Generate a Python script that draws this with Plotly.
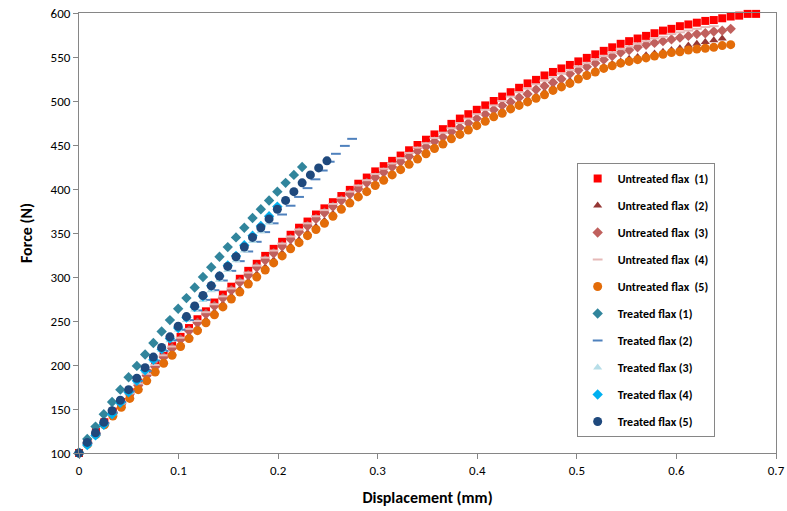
import plotly.graph_objects as go

# ---------------- data ----------------
disp_untreated = [0, 0.0085, 0.017, 0.0255, 0.034, 0.0425, 0.051, 0.0595, 0.068, 0.0765,
                  0.085, 0.0935, 0.102, 0.1105, 0.119, 0.1275, 0.136, 0.1445, 0.153, 0.1615,
                  0.17, 0.1785, 0.187, 0.1955, 0.204, 0.2125, 0.221, 0.2295, 0.238, 0.2465,
                  0.255, 0.2635, 0.272, 0.2805, 0.289, 0.2975, 0.306, 0.3145, 0.323, 0.3315,
                  0.34, 0.3485, 0.357, 0.3655, 0.374, 0.3825, 0.391, 0.3995, 0.408, 0.4165,
                  0.425, 0.4335, 0.442, 0.4505, 0.459, 0.4675, 0.476, 0.4845, 0.493, 0.5015,
                  0.51, 0.5185, 0.527, 0.5355, 0.544, 0.5525, 0.561, 0.5695, 0.578, 0.5865,
                  0.595, 0.6035, 0.612, 0.6205, 0.629, 0.6375, 0.646, 0.6545, 0.663, 0.6715, 0.68]

force_untreated_1 = [100, 112, 124, 135, 147, 158, 169, 180, 191, 201,
                     212, 222, 232, 242, 252, 261, 271, 280, 289, 298,
                     307, 315, 324, 332, 340, 348, 356, 363, 371, 378,
                     385, 392, 399, 406, 413, 420, 426, 432, 438, 444,
                     450, 456, 462, 468, 474, 480, 485, 490, 495, 500,
                     505, 510, 515, 520, 524, 529, 533, 537, 541, 545,
                     549, 553, 557, 561, 565, 568, 571, 574, 577, 580,
                     582, 585, 587, 589, 591, 592, 594, 596, 597, 599, 599]

force_untreated_2 = [100, 111, 122, 133, 144, 154, 164, 174, 184, 194,
                     204, 214, 224, 233, 242, 251, 260, 269, 278, 286,
                     295, 303, 311, 319, 327, 335, 342, 350, 357, 364,
                     372, 379, 386, 393, 399, 406, 412, 418, 424, 430,
                     436, 442, 448, 453, 459, 464, 469, 474, 479, 484,
                     489, 493, 498, 502, 506, 510, 515, 519, 523, 527,
                     531, 535, 539, 542, 545, 548, 550, 552, 554, 556,
                     558, 560, 563, 565, 567, 569, 571]

force_untreated_3 = [100, 111, 122, 133, 145, 156, 167, 177, 188, 198,
                     209, 219, 229, 239, 248, 258, 267, 276, 285, 294,
                     302, 311, 319, 327, 335, 343, 351, 358, 366, 373,
                     380, 387, 394, 400, 407, 413, 419, 425, 431, 437,
                     443, 448, 454, 459, 465, 470, 475, 480, 485, 490,
                     495, 499, 504, 508, 513, 517, 521, 525, 531, 535,
                     539, 543, 547, 551, 555, 558, 561, 564, 566, 568,
                     570, 572, 574, 576, 577, 579, 580, 582]

force_untreated_4 = [100, 112, 123, 134, 146, 157, 168, 179, 190, 200,
                     211, 221, 231, 241, 250, 260, 269, 278, 287, 296,
                     305, 313, 322, 330, 338, 346, 354, 361, 369, 376,
                     383, 390, 397, 404, 410, 417, 423, 429, 435, 441,
                     447, 452, 458, 464, 469, 475, 480, 485, 490, 495,
                     500, 505, 510, 514, 519, 523, 527, 531, 535, 539,
                     543, 547, 551, 555, 559, 562, 565, 568, 571, 573,
                     576, 578, 580, 582, 584, 585]

force_untreated_5 = [100, 110, 121, 132, 142, 152, 162, 172, 182, 192,
                     202, 211, 221, 230, 239, 248, 257, 266, 275, 283,
                     292, 300, 308, 316, 324, 332, 339, 347, 354, 361,
                     369, 377, 384, 391, 397, 404, 410, 416, 422, 428,
                     434, 440, 446, 451, 457, 462, 467, 472, 477, 482,
                     486, 491, 495, 499, 503, 507, 512, 516, 520, 525,
                     529, 533, 537, 540, 543, 545, 547, 549, 551, 553,
                     555, 556, 558, 559, 560, 561, 563, 564]

disp_treated = [0, 0.0083, 0.0166, 0.0249, 0.0332, 0.0415, 0.0498, 0.0581, 0.0664, 0.0747,
                0.083, 0.0913, 0.0996, 0.1079, 0.1162, 0.1245, 0.1328, 0.1411, 0.1494, 0.1577,
                0.166, 0.1743, 0.1826, 0.1909, 0.1992, 0.2075, 0.2158, 0.2241, 0.2324, 0.2407, 0.249]

force_treated_1 = [100, 116, 130, 144, 158, 172, 186, 199, 212, 225,
                   238, 251, 264, 276, 288, 300, 311, 323, 334, 345,
                   356, 367, 377, 387, 397, 407, 416, 425]

disp_treated_2 = [0, 0.0085, 0.017, 0.0255, 0.034, 0.0425, 0.051, 0.0595, 0.068, 0.0765,
                  0.085, 0.0935, 0.102, 0.1105, 0.119, 0.1275, 0.136, 0.1445, 0.153, 0.1615,
                  0.17, 0.1785, 0.187, 0.1955, 0.204, 0.2125, 0.221, 0.2295, 0.2375, 0.2448,
                  0.2518, 0.258, 0.267, 0.2743]
force_treated_2 = [100, 111, 122, 134, 146, 158, 170, 182, 193, 205,
                   216, 228, 240, 251, 262, 274, 285, 296, 307, 318,
                   329, 340, 351, 361, 371, 381, 391, 401, 411, 421,
                   431, 440, 449, 457]

force_treated_3 = [100, 110, 121, 133, 145, 157, 169, 181, 193, 205,
                   217, 228, 240, 251, 263, 274, 285, 297, 308, 319,
                   330, 341, 352, 362]

force_treated_4 = [100, 109, 120, 132, 144, 157, 169, 182, 194, 206,
                   218, 230, 242, 254, 266, 278, 290, 301, 313, 324,
                   336, 347, 358, 369, 380]

force_treated_5 = [100, 112, 123, 135, 148, 160, 172, 185, 197, 209,
                   220, 232, 244, 255, 267, 279, 290, 301, 312, 323,
                   334, 345, 356, 366, 377, 387, 397, 407, 416, 424, 432]

x_ticks = [0, 0.1, 0.2, 0.3, 0.4, 0.5, 0.6, 0.7]
x_tick_labels = ["0", "0.1", "0.2", "0.3", "0.4", "0.5", "0.6", "0.7"]
y_ticks = [100, 150, 200, 250, 300, 350, 400, 450, 500, 550, 600]

series = [
    ("Untreated flax\u00a0 (1)", disp_untreated, force_untreated_1, "square", "#FF0000", 8),
    ("Untreated flax\u00a0 (2)", disp_untreated, force_untreated_2, "triangle-up", "#953735", 8),
    ("Untreated flax\u00a0 (3)", disp_untreated, force_untreated_3, "diamond", "#C0605D", 8),
    ("Untreated flax\u00a0 (4)", disp_untreated, force_untreated_4, "line-ew", "#E6B9B8", 7),
    ("Untreated flax\u00a0 (5)", disp_untreated, force_untreated_5, "circle", "#E36C09", 9),
    ("Treated flax (1)", disp_treated, force_treated_1, "diamond", "#31859C", 8),
    ("Treated flax (2)", disp_treated_2, force_treated_2, "line-ew", "#4F81BD", 7),
    ("Treated flax (3)", disp_treated, force_treated_3, "triangle-up", "#B7DEE8", 8),
    ("Treated flax (4)", disp_treated, force_treated_4, "diamond", "#00B0F0", 8),
    ("Treated flax (5)", disp_treated, force_treated_5, "circle", "#1F497D", 9),
]

FONT = "Carlito, Calibri, Lato, sans-serif"

fig = go.Figure()
for k, (name, xs, ys, sym, col, size) in enumerate(series):
    if sym == "line-ew":
        marker = dict(symbol=sym, size=size, line=dict(color=col, width=2), color=col)
    else:
        marker = dict(symbol=sym, size=size, color=col, line=dict(width=0))
    fig.add_trace(go.Scatter(
        x=xs[:len(ys)], y=ys, mode="markers", name=name, marker=marker,
        legendgroup="g%d" % k, cliponaxis=False,
    ))

fig.update_layout(
    width=787, height=511,
    margin=dict(l=79, r=11, t=13, b=58, autoexpand=False),
    paper_bgcolor="white", plot_bgcolor="white",
    font=dict(family=FONT, size=13, color="#000000"),
    showlegend=True,
    legend=dict(
        x=0.714, y=0.659, xanchor="left", yanchor="top",
        bordercolor="#868686", borderwidth=1, bgcolor="white",
        font=dict(family=FONT, size=12, color="#000000", weight="bold"),
        tracegroupgap=8, itemwidth=30,
    ),
    xaxis=dict(
        range=[0, 0.7], tickvals=x_ticks, ticktext=x_tick_labels,
        showgrid=False, zeroline=False, automargin=False,
        ticklabeloverflow="allow",
        showline=True, linecolor="#868686", linewidth=1, mirror=True,
        ticks="outside", ticklen=5, tickcolor="#868686",
        tickfont=dict(size=13, color="#000000"),
        title=dict(text="<b>Displacement (mm)</b>", font=dict(size=16), standoff=15),
    ),
    yaxis=dict(
        range=[100, 600], tickvals=y_ticks,
        showgrid=False, zeroline=False, automargin=False,
        ticklabeloverflow="allow",
        showline=True, linecolor="#868686", linewidth=1, mirror=True,
        ticks="outside", ticklen=5, tickcolor="#868686",
        tickfont=dict(size=13, color="#000000"),
        title=dict(text="<b>Force (N)</b>", font=dict(size=16), standoff=14),
    ),
)

fig.write_html(
    "out.html",
    config={"displayModeBar": False},
    post_script="document.body.style.margin='0';document.body.style.overflow='hidden';",
)
